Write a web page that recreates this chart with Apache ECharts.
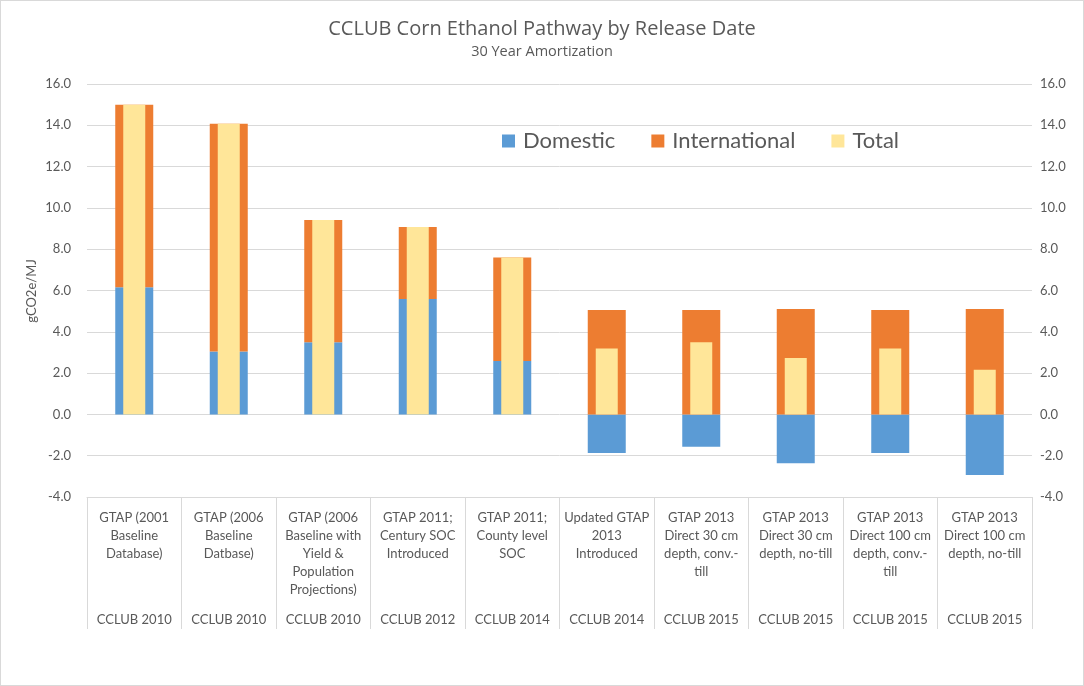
<!DOCTYPE html>
<html>
<head>
<meta charset="utf-8">
<script src="https://cdn.jsdelivr.net/npm/echarts@6/dist/echarts.min.js"></script>
<style>
    html, body { margin: 0; padding: 0; background: #fff; }
    #chart {
        width: 1084px;
        height: 686px;
        box-sizing: border-box;
        border: 1px solid #d9d9d9;
    }
</style>
</head>
<body>
<div id="chart"></div>
<script>
    // 类目 (两层标签)
    let descriptions = [
        'GTAP (2001\nBaseline\nDatabase)',
        'GTAP (2006\nBaseline\nDatbase)',
        'GTAP (2006\nBaseline with\nYield &\nPopulation\nProjections)',
        'GTAP 2011;\nCentury SOC\nIntroduced',
        'GTAP 2011;\nCounty level\nSOC',
        'Updated GTAP\n2013\nIntroduced',
        'GTAP 2013\nDirect 30 cm\ndepth, conv.-\ntill',
        'GTAP 2013\nDirect 30 cm\ndepth, no-till',
        'GTAP 2013\nDirect 100 cm\ndepth, conv.-\ntill',
        'GTAP 2013\nDirect 100 cm\ndepth, no-till'
    ];
    let releases = ['CCLUB 2010', 'CCLUB 2010', 'CCLUB 2010', 'CCLUB 2012', 'CCLUB 2014',
        'CCLUB 2014', 'CCLUB 2015', 'CCLUB 2015', 'CCLUB 2015', 'CCLUB 2015'];

    let domestic = [6.16, 3.04, 3.49, 5.59, 2.58, -1.87, -1.57, -2.37, -1.87, -2.94];
    let international = [8.84, 11.03, 5.92, 3.49, 5.02, 5.06, 5.06, 5.10, 5.06, 5.10];
    let total = [15.0, 14.07, 9.41, 9.08, 7.6, 3.19, 3.49, 2.73, 3.19, 2.16];

    let yMin = -4, yMax = 16, yStep = 2;

    let textColor = '#595959';
    let lineColor = '#d9d9d9';
    let labelFont = 'Lato';

    let chart = echarts.init(document.getElementById('chart'));

    let valueAxis = function (position, margin) {
        return {
            type: 'value',
            position: position,
            min: yMin,
            max: yMax,
            interval: yStep,
            axisLine: {show: false},
            axisTick: {show: false},
            splitLine: {show: position === 'left', lineStyle: {color: lineColor}},
            axisLabel: {
                color: textColor,
                fontFamily: labelFont,
                fontSize: 13,
                margin: margin,
                formatter: function (v) { return v.toFixed(1); }
            }
        };
    };

    let options = {
        animation: false,
        title: {
            text: 'CCLUB Corn Ethanol Pathway by Release Date',
            subtext: '30 Year Amortization',
            left: 'center',
            top: 13,
            itemGap: 5,
            textStyle: {color: textColor, fontFamily: 'Open Sans', fontSize: 20, fontWeight: 'normal'},
            subtextStyle: {color: textColor, fontFamily: 'Open Sans', fontSize: 14.5}
        },
        legend: {
            top: 124,
            left: 496,
            itemWidth: 13,
            itemHeight: 13,
            itemGap: 36,
            icon: 'rect',
            textStyle: {color: textColor, fontFamily: labelFont, fontSize: 22, padding: [0, 0, 0, 3]},
            data: ['Domestic', 'International', 'Total']
        },
        grid: {left: 86, right: 51, top: 83, bottom: 188},
        graphic: [{
            type: 'text',
            x: 31,
            y: 290,
            rotation: Math.PI / 2,
            style: {
                text: 'gCO2e/MJ',
                fill: textColor,
                font: '13px ' + labelFont,
                textAlign: 'center',
                textVerticalAlign: 'middle'
            }
        }],
        xAxis: [
            {
                type: 'category',
                position: 'bottom',
                data: descriptions,
                axisLine: {onZero: false, lineStyle: {color: lineColor}},
                axisTick: {show: true, interval: 0, length: 132, lineStyle: {color: lineColor}},
                axisLabel: {
                    interval: 0,
                    margin: 12,
                    color: textColor,
                    fontFamily: labelFont,
                    fontSize: 13,
                    lineHeight: 18
                }
            },
            {
                type: 'category',
                position: 'bottom',
                data: releases,
                axisLine: {show: false, onZero: false},
                axisTick: {show: false},
                axisLabel: {
                    interval: 0,
                    margin: 116,
                    color: textColor,
                    fontFamily: labelFont,
                    fontSize: 13
                }
            }
        ],
        yAxis: [valueAxis('left', 16), valueAxis('right', 8)],
        series: [
            {
                name: 'Domestic',
                type: 'bar',
                stack: 'ghg',
                barWidth: 38,
                itemStyle: {color: '#5b9bd5'},
                data: domestic
            },
            {
                name: 'International',
                type: 'bar',
                stack: 'ghg',
                barWidth: 38,
                itemStyle: {color: '#ed7d31'},
                data: international
            },
            {
                name: 'Total',
                type: 'bar',
                xAxisIndex: 1,
                yAxisIndex: 1,
                barWidth: 22,
                itemStyle: {color: '#ffe699'},
                data: total
            }
        ]
    };
    chart.setOption(options);
</script>
</body>
</html>
